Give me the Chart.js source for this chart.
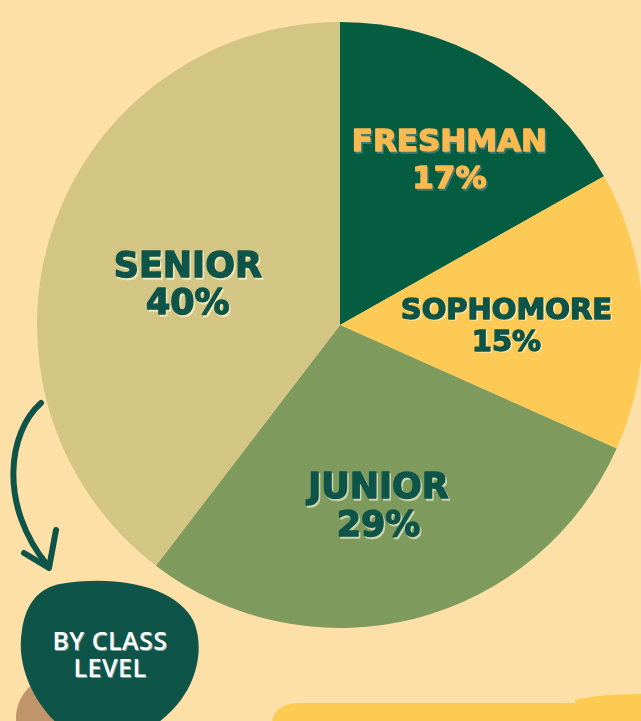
<!DOCTYPE html>
<html>
<head>
<meta charset="utf-8">
<script src="https://cdn.jsdelivr.net/npm/chart.js@4.4.0/dist/chart.umd.min.js"></script>
<style>
  html, body { margin: 0; padding: 0; width: 641px; height: 721px; overflow: hidden; background: #fde0a8; }
  #pie { position: absolute; left: 37px; top: 22px; }
  #deco { position: absolute; left: 0; top: 0; }
  .tag { position: absolute; left: 19px; width: 182px; text-align: center; color: #fff;
         font-family: "Open Sans", sans-serif; font-weight: 600; font-size: 25px; line-height: 27px;
         letter-spacing: 0.5px; top: 627px; text-shadow: 1px 1px 0 rgba(170,195,195,0.7); }
</style>
</head>
<body>
<svg id="deco" width="641" height="721">
  <!-- bottom right yellow shapes -->
  <path d="M272,721 Q276,703 300,703 L641,703 L641,721 Z" fill="#fdcb52"/>
  <path d="M575,721 L575,700 Q600,694 641,694 L641,721 Z" fill="#fdcb52"/>
  <!-- brown blob -->
  <ellipse cx="62" cy="718" rx="46" ry="44" fill="#c1956a"/>
  <!-- green blob -->
  <path d="M60,584 C120,574 178,588 194,622 C206,652 196,700 150,728 L62,728 C32,702 16,664 22,630 C26,602 40,588 60,584 Z" fill="#0e5449"/>
  <!-- arrow -->
  <path d="M41,403 C8,432 -2,505 48,566" fill="none" stroke="#0e5449" stroke-width="6" stroke-linecap="round"/>
  <path d="M24,553 L49,568 L56,530" fill="none" stroke="#0e5449" stroke-width="6" stroke-linecap="round" stroke-linejoin="round"/>
</svg>
<div class="tag">BY CLASS<br>LEVEL</div>
<canvas id="pie" width="606" height="606"></canvas>
<script>
// data
const classLevels = ["FRESHMAN", "SOPHOMORE", "JUNIOR", "SENIOR"];
const sharePct = [17, 15, 29, 40];
const sliceColors = ["#045c41", "#fdcb55", "#7e9a5c", "#d3c685"];

// label look per slice
const labelFrac = [0.65, 0.55, 0.61, 0.52];
const labelNudge = [[10, 7], [0, 10], [-7, 4], [-3, 12]];
const labelGap = [18.5, 16, 19, 18.5];
const labelSize = [31, 29, 35, 35];
const labelColor = ["#fbb94f", "#0f5448", "#0f5448", "#0f5448"];
const labelShadow = ["#3d7a70", "#fde7a8", "#c9d7b0", "#f2e7b8"];

const sliceLabels = {
  id: "sliceLabels",
  afterDatasetsDraw(chart) {
    const ctx = chart.ctx;
    const arcs = chart.getDatasetMeta(0).data;
    arcs.forEach((arc, i) => {
      const p = arc.getProps(["x", "y", "startAngle", "endAngle", "outerRadius"], true);
      const mid = (p.startAngle + p.endAngle) / 2;
      const r = p.outerRadius * labelFrac[i];
      const cx = p.x + Math.cos(mid) * r + labelNudge[i][0];
      const cy = p.y + Math.sin(mid) * r + labelNudge[i][1];
      const gap = labelGap[i];
      ctx.save();
      ctx.font = `bold ${labelSize[i]}px "DejaVu Sans", sans-serif`;
      ctx.textAlign = "center";
      ctx.textBaseline = "middle";
      ctx.lineJoin = "round";
      ctx.lineWidth = 1.4;
      // shadow pass
      ctx.fillStyle = ctx.strokeStyle = labelShadow[i];
      [[classLevels[i], cy - gap], [sharePct[i] + "%", cy + gap]].forEach(([t, y]) => {
        ctx.fillText(t, cx + 1.5, y + 1.5);
        ctx.strokeText(t, cx + 1.5, y + 1.5);
      });
      ctx.fillStyle = ctx.strokeStyle = labelColor[i];
      [[classLevels[i], cy - gap], [sharePct[i] + "%", cy + gap]].forEach(([t, y]) => {
        ctx.fillText(t, cx, y);
        ctx.strokeText(t, cx, y);
      });
      ctx.restore();
    });
  }
};

new Chart(document.getElementById("pie"), {
  type: "pie",
  data: {
    labels: classLevels,
    datasets: [{
      data: sharePct,
      backgroundColor: sliceColors,
      borderWidth: 0
    }]
  },
  options: {
    responsive: false,
    animation: false,
    layout: { padding: 0 },
    plugins: {
      legend: { display: false },
      tooltip: { enabled: false }
    }
  },
  plugins: [sliceLabels]
});
</script>
</body>
</html>
